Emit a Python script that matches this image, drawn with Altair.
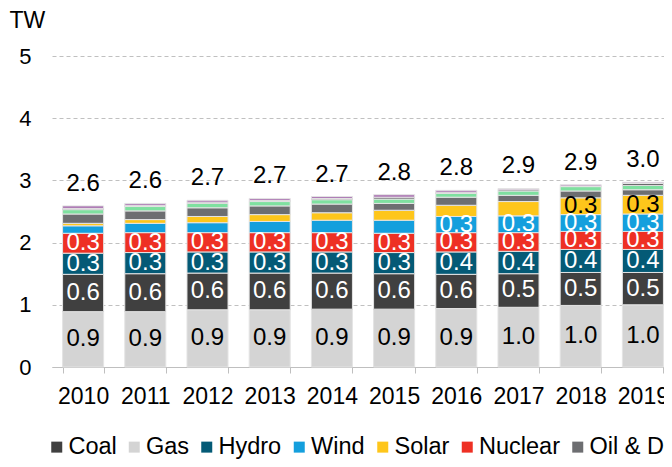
import altair as alt
import pandas as pd

years = ["2010", "2011", "2012", "2013", "2014", "2015", "2016", "2017", "2018", "2019"]

# stacking order, bottom to top
stack_order = ["Gas", "Coal", "Hydro", "Nuclear", "Wind", "Solar",
               "Oil & Diesel", "Bioenergy", "Other", "Storage"]
# legend order
legend_order = ["Coal", "Gas", "Hydro", "Wind", "Solar", "Nuclear",
                "Oil & Diesel", "Bioenergy", "Other", "Storage"]
legend_colors = ["#404040", "#d4d4d4", "#045a76", "#149fdd", "#fec61b", "#ee3024",
                 "#6d6e71", "#7fe0a0", "#58595b", "#a86fb0"]

gas     = [0.89, 0.89, 0.92, 0.92, 0.93, 0.93, 0.94, 0.96, 0.99, 1.00]
coal    = [0.60, 0.61, 0.59, 0.59, 0.58, 0.57, 0.55, 0.54, 0.53, 0.52]
hydro   = [0.34, 0.34, 0.34, 0.34, 0.34, 0.34, 0.36, 0.36, 0.37, 0.37]
nuclear = [0.32, 0.32, 0.31, 0.31, 0.31, 0.31, 0.31, 0.30, 0.29, 0.29]
wind    = [0.12, 0.15, 0.16, 0.18, 0.20, 0.21, 0.26, 0.27, 0.27, 0.28]
solar   = [0.04, 0.06, 0.10, 0.11, 0.12, 0.16, 0.18, 0.23, 0.27, 0.30]
oil     = [0.15, 0.14, 0.14, 0.14, 0.14, 0.11, 0.13, 0.10, 0.11, 0.09]
bio     = [0.07, 0.07, 0.07, 0.07, 0.07, 0.07, 0.06, 0.07, 0.07, 0.07]
other   = [0.02, 0.02, 0.02, 0.02, 0.02, 0.03, 0.02, 0.02, 0.01, 0.03]
storage = [0.04, 0.03, 0.03, 0.03, 0.03, 0.04, 0.03, 0.02, 0.02, 0.02]

series_values = {
    "Gas": gas, "Coal": coal, "Hydro": hydro, "Nuclear": nuclear,
    "Wind": wind, "Solar": solar, "Oil & Diesel": oil,
    "Bioenergy": bio, "Other": other, "Storage": storage,
}

rows = []
for idx, name in enumerate(stack_order):
    for y, v in zip(years, series_values[name]):
        rows.append({"year": y, "source": name, "value": v, "idx": idx})
df = pd.DataFrame(rows)

FONT = "Liberation Sans"

x_enc = alt.X(
    "year:N",
    sort=years,
    title=None,
    scale=alt.Scale(paddingInner=0.34, paddingOuter=0.17),
    axis=alt.Axis(labelAngle=0, labelFontSize=23, labelPadding=12, labelColor="#000000",
                  domainColor="#bfbfbf", tickColor="#bfbfbf", tickSize=6,
                  tickBand="extent", grid=False),
)

y_scale = alt.Scale(domain=[0, 5])

base = alt.Chart(df)

bars = base.mark_bar(stroke="#e4e4e4", strokeWidth=1).encode(
    x=x_enc,
    y=alt.Y("value:Q", stack="zero", scale=y_scale,
            axis=alt.Axis(title="TW", titleAngle=0, titleAlign="left",
                          titleBaseline="alphabetic", titleX=-43, titleY=-29,
                          titleFontSize=23, titleFontWeight="normal", titleColor="#000000",
                          values=[0, 1, 2, 3, 4, 5], format="d",
                          labelFontSize=22, labelPadding=21,
                          labelColor="#000000", domain=False, ticks=False,
                          grid=True, gridColor="#c0c0c0", gridDash=[4, 3])),
    color=alt.Color("source:N",
                    scale=alt.Scale(domain=legend_order, range=legend_colors),
                    legend=alt.Legend(title=None, orient="none", legendX=-7, legendY=379,
                                      direction="horizontal", columns=10,
                                      symbolType="square", symbolSize=121,
                                      symbolStrokeWidth=0, labelFontSize=23.5,
                                      labelOffset=0, columnPadding=5.5, padding=0,
                                      labelColor="#000000")),
    order=alt.Order("idx:Q", sort="ascending"),
)

seg_labels = base.transform_stack(
    stack="value", groupby=["year"],
    sort=[alt.SortField("idx", order="ascending")], as_=["v0", "v1"],
).transform_filter(
    "datum.value >= 0.25"
).transform_calculate(
    mid="(datum.v0 + datum.v1) / 2"
).mark_text(fontSize=24, baseline="middle", align="center").encode(
    x=alt.X("year:N", sort=years),
    y=alt.Y("mid:Q", scale=y_scale),
    text=alt.Text("value:Q", format=".1f"),
    color=alt.condition("datum.source == 'Gas' || datum.source == 'Solar'",
                        alt.value("#000000"), alt.value("#ffffff")),
)

totals = base.transform_aggregate(
    total="sum(value)", groupby=["year"]
).mark_text(fontSize=24, baseline="alphabetic", align="center", dy=-15,
            color="#000000").encode(
    x=alt.X("year:N", sort=years),
    y=alt.Y("total:Q", scale=y_scale),
    text=alt.Text("total:Q", format=".1f"),
)

chart = alt.layer(bars, seg_labels, totals).properties(
    width=622,
    height=311,
    autosize=alt.AutoSizeParams(type="none"),
    padding={"left": 44, "top": 48, "right": -10, "bottom": 92},
).configure(font=FONT).configure_view(strokeWidth=0)

chart.save("out.html", embed_options={"renderer": "svg", "actions": False})
